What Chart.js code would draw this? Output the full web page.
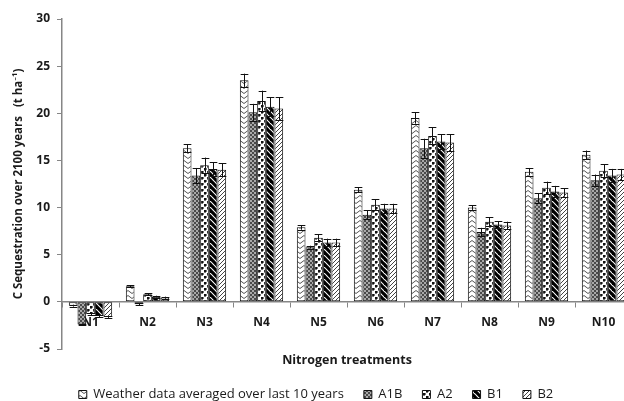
<!DOCTYPE html>
<html>
<head>
<meta charset="utf-8">
<script src="https://cdn.jsdelivr.net/npm/chart.js@4.4.1/dist/chart.umd.min.js"></script>
<style>
    html, body { margin: 0; padding: 0; background: #fff; }
    .wrap { width: 624px; height: 401px; overflow: hidden; position: relative; }
    canvas { display: block; }
</style>
</head>
<body>
<div class="wrap">
    <canvas id="seqChart" width="640" height="420"></canvas>
</div>
<script>
var categories = ['N1', 'N2', 'N3', 'N4', 'N5', 'N6', 'N7', 'N8', 'N9', 'N10'];
var seriesNames = ['Weather data averaged over last 10 years', 'A1B', 'A2', 'B1', 'B2'];

var weatherVals = [-0.4, 1.65, 16.3, 23.5, 7.9, 11.9, 19.5, 10.0, 13.8, 15.6];
var a1bVals = [-2.4, -0.25, 13.4, 20.1, 5.8, 9.25, 16.3, 7.4, 11.0, 12.9];
var a2Vals = [-1.3, 0.8, 14.5, 21.3, 6.8, 10.3, 17.6, 8.5, 12.1, 13.9];
var b1Vals = [-1.5, 0.55, 14.1, 20.7, 6.3, 9.9, 17.0, 8.2, 11.7, 13.4];
var b2Vals = [-1.6, 0.45, 14.0, 20.5, 6.3, 9.9, 16.9, 8.1, 11.6, 13.5];

var weatherErr = [0.1, 0.1, 0.4, 0.7, 0.25, 0.25, 0.6, 0.25, 0.4, 0.45];
var a1bErr = [0.1, 0.1, 0.8, 0.9, 0.15, 0.45, 1.0, 0.45, 0.5, 0.6];
var a2Err = [0.1, 0.1, 0.8, 1.1, 0.35, 0.6, 0.9, 0.5, 0.65, 0.7];
var b1Err = [0.1, 0.1, 0.7, 1.0, 0.4, 0.5, 0.8, 0.35, 0.6, 0.7];
var b2Err = [0.1, 0.1, 0.7, 1.2, 0.4, 0.5, 0.9, 0.4, 0.45, 0.6];

var yTicks = [-5, 0, 5, 10, 15, 20, 25, 30];

(function () {
    var canvas = document.getElementById('seqChart');
    var ctx = canvas.getContext('2d');

    function tile(w, h, paint) {
        var c = document.createElement('canvas');
        c.width = w;
        c.height = h;
        var t = c.getContext('2d');
        t.fillStyle = '#fff';
        t.fillRect(0, 0, w, h);
        paint(t);
        return ctx.createPattern(c, 'repeat');
    }

    // zigzag rows
    var weatherFill = tile(8, 5, function (t) {
        t.strokeStyle = '#555';
        t.lineWidth = 1;
        t.beginPath();
        t.moveTo(0, 0.5);
        t.lineTo(4, 3.5);
        t.lineTo(8, 0.5);
        t.stroke();
    });

    // fine grey checker
    var a1bFill = tile(4, 4, function (t) {
        t.fillStyle = '#a9a9a9';
        t.fillRect(0, 0, 4, 4);
        t.fillStyle = '#4a4a4a';
        t.fillRect(0, 0, 2, 2);
        t.fillRect(2, 2, 2, 2);
    });

    // dots
    var a2Fill = tile(6, 6, function (t) {
        t.fillStyle = '#111';
        t.fillRect(0, 0, 2, 2);
        t.fillRect(3, 3, 2, 2);
        t.fillStyle = '#777';
        t.fillRect(2, 0, 1, 2);
        t.fillRect(5, 3, 1, 2);
        t.fillRect(0, 2, 2, 1);
        t.fillRect(3, 5, 2, 1);
    });

    // heavy back-diagonal
    var b1Fill = tile(6, 6, function (t) {
        t.strokeStyle = '#000';
        t.lineWidth = 3.2;
        [-6, 0, 6].forEach(function (o) {
            t.beginPath();
            t.moveTo(o - 1, -1);
            t.lineTo(o + 7, 7);
            t.stroke();
        });
    });

    // light forward-diagonal
    var b2Fill = tile(4, 4, function (t) {
        t.strokeStyle = '#444';
        t.lineWidth = 1;
        [-4, 0, 4].forEach(function (o) {
            t.beginPath();
            t.moveTo(o - 1, 5);
            t.lineTo(o + 5, -1);
            t.stroke();
        });
    });

    var values = [weatherVals, a1bVals, a2Vals, b1Vals, b2Vals];
    var errors = [weatherErr, a1bErr, a2Err, b1Err, b2Err];
    var fills = [weatherFill, a1bFill, a2Fill, b1Fill, b2Fill];

    var errorBars = {
        id: 'errorBars',
        afterDatasetsDraw: function (chart) {
            var yScale = chart.scales.y;
            var c = chart.ctx;
            c.save();
            c.strokeStyle = '#111';
            c.lineWidth = 1;
            chart.data.datasets.forEach(function (ds, i) {
                var meta = chart.getDatasetMeta(i);
                meta.data.forEach(function (bar, j) {
                    var v = ds.data[j];
                    var e = errors[i][j];
                    var top = yScale.getPixelForValue(v + e);
                    var bot = yScale.getPixelForValue(v - e);
                    var half = bar.width / 2 - 0.5;
                    var x = Math.round(bar.x) + 0.5;
                    c.beginPath();
                    c.moveTo(x, top);
                    c.lineTo(x, bot);
                    c.moveTo(x - half, Math.round(top) + 0.5);
                    c.lineTo(x + half, Math.round(top) + 0.5);
                    c.moveTo(x - half, Math.round(bot) + 0.5);
                    c.lineTo(x + half, Math.round(bot) + 0.5);
                    c.stroke();
                });
            });
            c.restore();
        }
    };

    Chart.defaults.font.family = '"Open Sans", Lato, sans-serif';
    Chart.defaults.color = '#1a1a1a';

    new Chart(ctx, {
        type: 'bar',
        data: {
            labels: categories,
            datasets: seriesNames.map(function (name, i) {
                return {
                    label: name,
                    data: values[i],
                    backgroundColor: fills[i],
                    borderColor: '#111',
                    borderWidth: 1,
                    borderSkipped: false,
                    categoryPercentage: 0.76,
                    barPercentage: 1.0
                };
            })
        },
        options: {
            responsive: false,
            animation: false,
            layout: { padding: { left: 0, right: 8, top: 19, bottom: 9 } },
            plugins: {
                tooltip: { enabled: false },
                title: {
                    display: true,
                    text: 'Nitrogen treatments',
                    position: 'bottom',
                    fullSize: false,
                    weight: 500,
                    font: { size: 12.5, weight: 'bold' },
                    color: '#1a1a1a',
                    padding: { top: 4, bottom: 0 }
                },
                legend: {
                    position: 'bottom',
                    labels: {
                        boxWidth: 8,
                        boxHeight: 8,
                        padding: 20,
                        font: { size: 13 },
                        color: '#1a1a1a'
                    }
                }
            },
            scales: {
                x: {
                    position: { y: 0 },
                    afterFit: function (scale) { scale.height = 0; },
                    grid: {
                        drawOnChartArea: false,
                        tickLength: 5,
                        color: '#868686'
                    },
                    border: { color: '#868686', width: 1.5 },
                    ticks: {
                        padding: 9,
                        maxRotation: 0,
                        font: { size: 12, weight: 'bold' },
                        color: '#1a1a1a'
                    }
                },
                y: {
                    min: yTicks[0],
                    max: yTicks[yTicks.length - 1],
                    afterFit: function (scale) { scale.width = 62; },
                    afterBuildTicks: function (scale) {
                        scale.ticks = yTicks.map(function (v) { return { value: v }; });
                    },
                    grid: {
                        drawOnChartArea: false,
                        tickLength: 5,
                        color: '#868686'
                    },
                    border: { color: '#868686', width: 1.5 },
                    ticks: {
                        padding: 7,
                        font: { size: 12, weight: 'bold' },
                        color: '#1a1a1a'
                    },
                    title: {
                        display: true,
                        text: 'C Sequestration over 2100 years   (t ha\u207B\u00B9)',
                        font: { size: 11.5, weight: 'bold' },
                        color: '#1a1a1a',
                        padding: { top: 12, bottom: 0 }
                    }
                }
            }
        },
        plugins: [errorBars]
    });
})();
</script>
</body>
</html>
